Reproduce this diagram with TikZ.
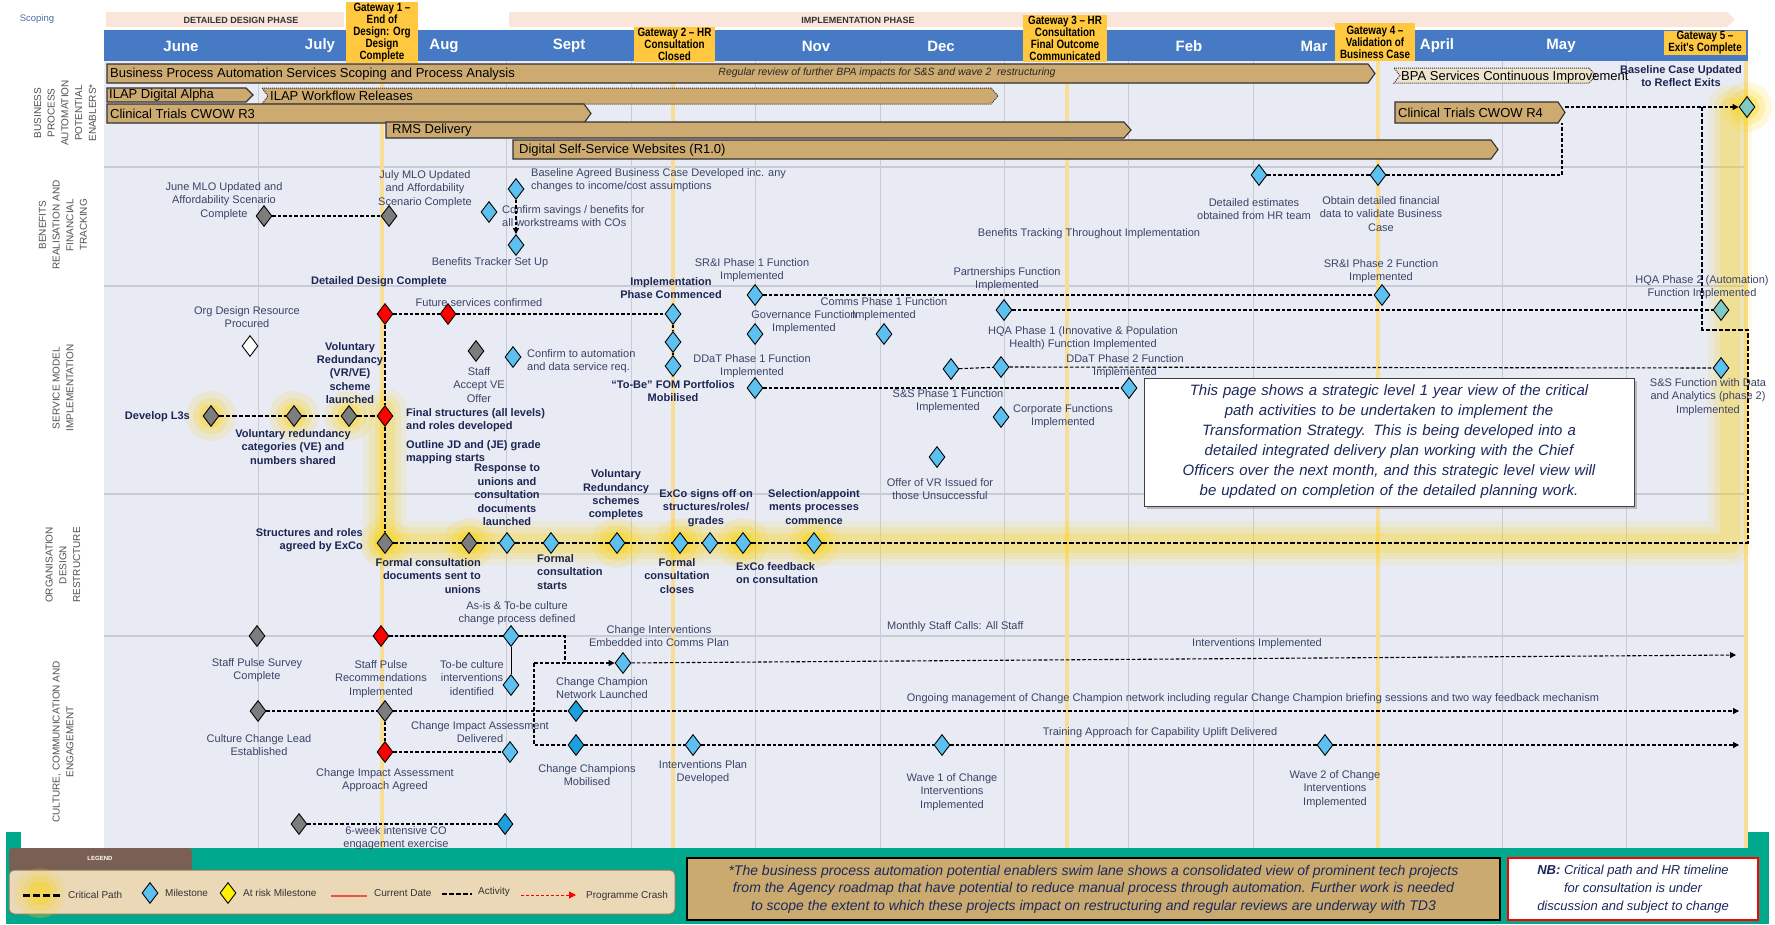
\documentclass[tikz,border=0pt]{standalone}
\usepackage{fontspec}
\setmainfont{Liberation Sans}
\newfontfamily\narrowf{Liberation Sans}[FakeStretch=0.82]
\usetikzlibrary{shapes.geometric,arrows.meta,shadows}
\definecolor{hdrblue}{RGB}{70,122,196}
\definecolor{lav}{RGB}{232,234,244}
\definecolor{gridc}{RGB}{200,203,214}
\definecolor{gwline}{RGB}{247,221,150}
\definecolor{gwbox}{RGB}{255,200,62}
\definecolor{phasec}{RGB}{250,229,219}
\definecolor{bartan}{RGB}{205,171,112}
\definecolor{barpale}{RGB}{238,227,205}
\definecolor{msblue}{RGB}{92,192,240}
\definecolor{msdark}{RGB}{30,160,222}
\definecolor{msgray}{RGB}{125,125,125}
\definecolor{msteal}{RGB}{128,202,196}
\definecolor{lblc}{RGB}{58,68,102}
\definecolor{boldc}{RGB}{28,38,82}
\definecolor{greenc}{RGB}{0,168,142}
\definecolor{legbrown}{RGB}{122,96,84}
\definecolor{legbeige}{RGB}{234,216,182}
\definecolor{legedge}{RGB}{140,120,100}
\definecolor{notec}{RGB}{202,170,110}
\definecolor{glowc}{RGB}{255,212,0}
\definecolor{lanec}{RGB}{80,80,80}
\definecolor{navyt}{RGB}{28,40,92}
\definecolor{scopc}{RGB}{80,110,160}
\definecolor{curred}{RGB}{240,80,70}

\newcommand\mychev[5]{\draw[#5] (#1,#3) -- ({#2-7},#3) -- (#2,{(#3+#4)/2}) -- ({#2-7},#4) -- (#1,#4) -- cycle;}
\newcommand\mynotch[5]{\draw[#5] (#1,#3) -- ({#2-7},#3) -- (#2,{(#3+#4)/2}) -- ({#2-7},#4) -- (#1,#4) -- ({#1+6},{(#3+#4)/2}) -- cycle;}
\newcommand\glowdot[2]{\fill[glowc,opacity=0.14] (#1,#2) circle (25pt); \fill[glowc,opacity=0.2] (#1,#2) circle (18pt); \fill[glowc,opacity=0.3] (#1,#2) circle (12pt);}

\tikzset{
 ms/.style={diamond,draw=black,line width=0.9pt,inner sep=0pt,minimum width=16pt,minimum height=21pt,fill=msblue},
 msg/.style={ms,fill=msgray},
 msr/.style={ms,fill=red},
 msw/.style={ms,fill=white},
 mst/.style={ms,fill=msteal},
 msd/.style={ms,fill=msdark},
 msy/.style={ms,fill=yellow},
 lbl/.style={font=\fontsize{11}{13.4}\selectfont,text=lblc,align=center,inner sep=0pt},
 blbl/.style={font=\bfseries\fontsize{11}{13.4}\selectfont,text=boldc,align=center,inner sep=0pt},
 bartxt/.style={font=\fontsize{13}{14}\selectfont,text=black,inner sep=0pt,anchor=west},
 act/.style={black,line width=1.1pt,dash pattern=on 3.5pt off 2pt},
 crit/.style={black,line width=1.6pt,dash pattern=on 4.5pt off 2pt},
 tip/.style={-{Triangle[length=6pt,width=6pt]}},
 barst/.style={fill=bartan,draw=black!80,line width=1.1pt},
 bardot/.style={fill=bartan,draw=black!80,line width=1pt,dash pattern=on 1pt off 1pt},
 lane/.style={font=\fontsize{10}{13.7}\selectfont,text=lanec,align=center,rotate=90,inner sep=0pt},
 mon/.style={font=\bfseries\fontsize{15}{16}\selectfont,text=white,inner sep=0pt},
 gwb/.style={fill=gwbox,inner sep=0pt,align=center,font=\narrowf\bfseries\fontsize{12}{12}\selectfont},
 leg/.style={font=\fontsize{10}{11}\selectfont,text=black!80,inner sep=0pt,anchor=west},
 phs/.style={font=\bfseries\fontsize{9}{10}\selectfont,text=black!80,inner sep=0pt},
}

\begin{document}
\begin{tikzpicture}[x=1pt,y=-1pt]
\useasboundingbox (0,0) rectangle (1775,924);
\fill[white] (0,0) rectangle (1775,924);
% backgrounds
\fill[greenc] (6,832) rectangle (1769,924);
\fill[white] (21,0) rectangle (104,848);
\fill[lav] (104,61) rectangle (1748,848);
% header
\fill[phasec] (106,12) rectangle (344,27);
\node[phs] (ph1) at (241,20) {DETAILED DESIGN PHASE};
\fill[phasec] (509,12) -- (1727,12) -- (1735,19.5) -- (1727,27) -- (509,27) -- cycle;
\node[phs] (ph2) at (858,20) {IMPLEMENTATION PHASE};
\node[font=\fontsize{9.5}{10}\selectfont,text=scopc,inner sep=0pt] (scop) at (37,19) {Scoping};
\fill[hdrblue] (104,30) rectangle (1748,61);
\node[mon] (m1) at (181,46) {June};
\node[mon] (m2) at (320,46) {July};
\node[mon] (m3) at (444,46) {Aug};
\node[mon] (m4) at (569,46) {Sept};
\node[mon] (m5) at (816,46) {Nov};
\node[mon] (m6) at (941,46) {Dec};
\node[mon] (m7) at (1189,46) {Feb};
\node[mon] (m8) at (1314,46) {Mar};
\node[mon] (m9) at (1437,46) {April};
\node[mon] (m10) at (1561,46) {May};
% grid
\foreach \i in {0,...,11} \draw[gridc,line width=1pt] ({258+124.4*\i},61) -- ({258+124.4*\i},848);
\foreach \yy in {167,286,494,636} \draw[gridc,line width=2.5pt] (104,\yy) -- (1748,\yy);
\foreach \xx in {382,673,1067,1378,1746} \draw[gwline,line width=3.5pt] (\xx,61) -- (\xx,848);
% gateway boxes
\node[gwb,minimum width=72pt,minimum height=61pt] (gw1) at (382,32.5) {Gateway 1 –\\End of\\Design: Org\\Design\\Complete};
\node[gwb,minimum width=81pt,minimum height=35pt] (gw2) at (674.5,44.5) {Gateway 2 – HR\\Consultation\\Closed};
\node[gwb,minimum width=84pt,minimum height=47pt] (gw3) at (1065,38.5) {Gateway 3 – HR\\Consultation\\Final Outcome\\Communicated};
\node[gwb,minimum width=80pt,minimum height=38pt] (gw4) at (1375,42) {Gateway 4 –\\Validation of\\Business Case};
\node[gwb,minimum width=82pt,minimum height=24pt] (gw5) at (1705,43) {Gateway 5 –\\Exit's Complete};
% lane labels
\node[lane] (l1) at (65,113) {BUSINESS\\PROCESS\\AUTOMATION\\POTENTIAL\\ENABLERS*};
\node[lane] (l2) at (63,225) {BENEFITS\\REALISATION AND\\FINANCIAL\\TRACKING};
\node[lane] (l3) at (63,388) {SERVICE MODEL\\IMPLEMENTATION};
\node[lane] (l4) at (63,565) {ORGANISATION\\DESIGN\\RESTRUCTURE};
\node[lane] (l5) at (63,742) {CULTURE, COMMUNICATION AND\\ENGAGEMENT};
% glows
\foreach \w/\o in {44/0.1,32/0.14,20/0.2} \draw[glowc,line width=\w pt,opacity=\o,line cap=round,line join=round] (385,410) -- (385,543) -- (1730,543) -- (1730,107);
\glowdot{211}{416}\glowdot{294}{416}\glowdot{349}{416}
\glowdot{385}{543}\glowdot{469}{543}\glowdot{617}{543}\glowdot{680}{543}\glowdot{743}{543}\glowdot{814}{543}
\glowdot{1747}{107}\glowdot{40}{893}
% BPA bars
\mychev{107}{1375}{64}{83}{barst}
\node[bartxt] (bA) at (110,74) {Business Process Automation Services Scoping and Process Analysis};
\node[font=\itshape\fontsize{10.5}{12}\selectfont,inner sep=0pt,text=black!85] (bAi) at (887,73) {Regular review of further BPA impacts for S\&S and wave 2\ \ restructuring};
\mychev{107}{253}{88}{102}{barst}
\node[bartxt] (bB) at (109,95) {ILAP Digital Alpha};
\mynotch{262}{998}{88}{104}{bardot}
\node[bartxt] (bC) at (270,96) {ILAP Workflow Releases};
\mychev{107}{591}{104}{123}{barst}
\node[bartxt] (bD) at (110,114) {Clinical Trials CWOW R3};
\mychev{386}{1131}{122}{138}{barst}
\node[bartxt] (bE) at (392,130) {RMS Delivery};
\mychev{513}{1498}{140}{159}{barst}
\node[bartxt] (bF) at (519,150) {Digital Self-Service Websites (R1.0)};
\mynotch{1394}{1596}{68}{83}{bardot,fill=barpale}
\node[bartxt] (bG) at (1401,77) {BPA Services Continuous Improvement};
\mychev{1395}{1565}{102}{123}{barst}
\node[bartxt] (bH) at (1398,113) {Clinical Trials CWOW R4};
\coordinate (hR) at (1565,107);
\coordinate (hB) at (1562,123);
% milestones
\node[mst] (g5) at (1747,107) {};
\node[msg] (b1) at (264,216) {};
\node[msg] (b2) at (389,216) {};
\node[ms] (b3) at (489,212) {};
\node[ms] (b4) at (516,189) {};
\node[ms] (b5) at (516,245) {};
\node[ms] (b6) at (1259,175) {};
\node[ms] (b7) at (1378,175) {};
\node[msr] (s1) at (385,314) {};
\node[msr] (s2) at (448,314) {};
\node[ms] (s3) at (673,314) {};
\node[msw] (s4) at (250,346) {};
\node[ms] (s5) at (673,342) {};
\node[ms] (s6) at (673,366) {};
\node[ms] (s7) at (755,295) {};
\node[ms] (s8) at (1382,295) {};
\node[ms] (s9) at (755,334) {};
\node[ms] (s10) at (884,334) {};
\node[ms] (s11) at (1004,310) {};
\node[mst] (s12) at (1721,310) {};
\node[ms] (s13) at (951,369) {};
\node[ms] (s14) at (1001,367) {};
\node[ms] (s15) at (1721,368) {};
\node[ms] (s16) at (755,388) {};
\node[ms] (s17) at (1129,388) {};
\node[ms] (s18) at (1001,417) {};
\node[ms] (s19) at (937,457) {};
\node[msg] (s20) at (476,351) {};
\node[ms] (s21) at (513,357) {};
\node[msg] (s22) at (211,416) {};
\node[msg] (s23) at (294,416) {};
\node[msg] (s24) at (349,416) {};
\node[msr] (s25) at (385,416) {};
\node[msg] (o1) at (385,543) {};
\node[msg] (o2) at (469,543) {};
\node[ms] (o3) at (507,543) {};
\node[ms] (o4) at (551,543) {};
\node[ms] (o5) at (617,543) {};
\node[ms] (o6) at (680,543) {};
\node[ms] (o7) at (710,543) {};
\node[ms] (o8) at (743,543) {};
\node[ms] (o9) at (814,543) {};
\node[msg] (c1) at (257,636) {};
\node[msr] (c2) at (381,636) {};
\node[ms] (c3) at (511,636) {};
\node[ms] (c4) at (511,685) {};
\node[ms] (c5) at (623,663) {};
\node[msg] (c6) at (258,711) {};
\node[msg] (c7) at (385,711) {};
\node[msd] (c8) at (576,711) {};
\node[msr] (c9) at (385,752) {};
\node[ms] (c10) at (510,752) {};
\node[msd] (c11) at (576,745) {};
\node[ms] (c12) at (693,745) {};
\node[ms] (c13) at (942,745) {};
\node[ms] (c14) at (1325,745) {};
\node[msg] (c15) at (299,824) {};
\node[msd] (c16) at (505,824) {};
\coordinate (k1) at (1748,543);
\coordinate (k2) at (1748,330);
\coordinate (k3) at (1702,330);
\coordinate (k4) at (1702,107);
\coordinate (bk) at (1562,175);
\coordinate (q1) at (565,636);
\coordinate (q2) at (565,663);
\coordinate (q3) at (534,663);
\coordinate (q4) at (534,745);
\coordinate (e1) at (1736,655);
\coordinate (e2) at (1739,711);
\coordinate (e3) at (1739,745);
% connectors
\draw[act,tip] (hR) -- (g5);
\draw[act] (b1) -- (b2);
\draw[act,tip] (b4) -- (b5);
\draw[act] (b6) -- (b7);
\draw[act] (b7) -- (bk) -- (hB);
\draw[act] (s1) -- (s2) -- (s3);
\draw[act] (s3) -- (s5) -- (s6);
\draw[act] (s7) -- (s8);
\draw[act] (s11) -- (s12);
\draw[act] (s13) -- (s14) -- (s15);
\draw[act] (s16) -- (s17);
\draw[crit] (s22) -- (s23) -- (s24) -- (s25);
\draw[crit] (s1) -- (s25) -- (o1);
\draw[crit] (o1) -- (o2) -- (o3) -- (o4) -- (o5) -- (o6) -- (o7) -- (o8) -- (o9) -- (k1) -- (k2) -- (k3) -- (k4);
\draw[act] (c2) -- (c3) -- (q1) -- (q2);
\draw[act,tip] (q3) -- (c5);
\draw[act] (q3) -- (q4) -- (c11);
\draw[line width=1pt] (c3) -- (c4);
\draw[act,tip] (c5) -- (e1);
\draw[act,tip] (c6) -- (c7) -- (c8) -- (e2);
\draw[act] (c7) -- (c9) -- (c10);
\draw[act,tip] (c11) -- (c12) -- (c13) -- (c14) -- (e3);
\draw[act] (c15) -- (c16);
% benefits texts
\node[lbl] (t1) at (224,201) {June MLO Updated and\\Affordability Scenario\\Complete};
\node[lbl] (t2) at (425,189) {July MLO Updated\\and Affordability\\Scenario Complete};
\node[lbl,align=left,anchor=west] (t3) at (502,216) {Confirm savings / benefits for\\all workstreams with COs};
\node[lbl,align=left,anchor=west] (t4) at (531,180) {Baseline Agreed Business Case Developed inc. any\\changes to income/cost assumptions};
\node[lbl] (t5) at (490,263) {Benefits Tracker Set Up};
\node[lbl] (t6) at (1254,209) {Detailed estimates\\obtained from HR team};
\node[lbl] (t7) at (1381,214) {Obtain detailed financial\\data to validate Business\\Case};
\node[lbl] (t8) at (1089,234) {Benefits Tracking Throughout Implementation};
\node[lbl] (t9) at (752,270) {SR\&I Phase 1 Function\\Implemented};
\node[blbl] (t10) at (379,282) {Detailed Design Complete};
\node[blbl] (t11) at (671,288) {Implementation\\Phase Commenced};
\node[lbl] (t12) at (1007,279) {Partnerships Function\\Implemented};
\node[lbl] (t13) at (1381,271) {SR\&I Phase 2 Function\\Implemented};
\node[lbl] (t14) at (1702,287) {HQA Phase 2 (Automation)\\Function Implemented};
\node[blbl] (t61) at (1681,76) {Baseline Case Updated\\to Reflect Exits};
% service texts
\node[lbl] (t15) at (479,303) {Future services confirmed};
\node[lbl] (t16) at (247,317) {Org Design Resource\\Procured};
\node[lbl] (t17) at (804,322) {Governance Function\\Implemented};
\node[lbl] (t18) at (884,309) {Comms Phase 1 Function\\Implemented};
\node[lbl] (t19) at (1083,338) {HQA Phase 1 (Innovative \& Population\\Health) Function Implemented};
\node[lbl] (t20) at (1125,366) {DDaT Phase 2 Function\\Implemented};
\node[blbl] (t21) at (673,391) {“To-Be” FOM Portfolios\\Mobilised};
\node[lbl] (t22) at (752,366) {DDaT Phase 1 Function\\Implemented};
\node[lbl] (t23) at (948,401) {S\&S Phase 1 Function\\Implemented};
\node[lbl] (t24) at (1063,416) {Corporate Functions\\Implemented};
\node[lbl] (t25) at (940,489) {Offer of VR Issued for\\those Unsuccessful};
\node[lbl] (t26) at (1708,397) {S\&S Function with Data\\and Analytics (phase 2)\\Implemented};
\node[lbl] (t27) at (479,385) {Staff\\Accept VE\\Offer};
\node[lbl,align=left,anchor=west] (t28) at (527,361) {Confirm to automation\\and data service req.};
\node[blbl] (t29) at (350,373) {Voluntary\\Redundancy\\(VR/VE)\\scheme\\launched};
\node[blbl,anchor=east] (t30) at (190,417) {Develop L3s};
\node[blbl] (t31) at (293,447) {Voluntary redundancy\\categories (VE) and\\numbers shared};
\node[blbl,align=left,anchor=west] (t32) at (406,420) {Final structures (all levels)\\and roles developed};
\node[blbl,align=left,anchor=west] (t33) at (406,452) {Outline JD and (JE) grade\\mapping starts};
\node[blbl] (t34) at (507,495) {Response to\\unions and\\consultation\\documents\\launched};
\node[blbl] (t35) at (616,495) {Voluntary\\Redundancy\\schemes\\completes};
\node[blbl] (t36) at (706,508) {ExCo signs off on\\structures/roles/\\grades};
\node[blbl] (t37) at (814,507) {Selection/appoint\\ments processes\\commence};
\node[draw=black!75,line width=1pt,fill=white,drop shadow={shadow xshift=3pt,shadow yshift=-3pt,opacity=0.45},minimum width=490pt,minimum height=128pt,inner sep=0pt,align=center,text width=488pt,font=\itshape\fontsize{15}{20}\selectfont,text=navyt] (note) at (1389,442) {This page shows a strategic level 1 year view of the critical\\path activities to be undertaken to implement the\\Transformation Strategy. This is being developed into a\\detailed integrated delivery plan working with the Chief\\Officers over the next month, and this strategic level view will\\be updated on completion of the detailed planning work.};
% org texts
\node[blbl,align=right,anchor=east] (t38) at (363,540) {Structures and roles\\agreed by ExCo};
\node[blbl,align=right,anchor=east] (t39) at (481,576) {Formal consultation\\documents sent to\\unions};
\node[blbl,align=left,anchor=west] (t40) at (537,572) {Formal\\consultation\\starts};
\node[blbl] (t41) at (677,576) {Formal\\consultation\\closes};
\node[blbl,align=left,anchor=west] (t42) at (736,573) {ExCo feedback\\on consultation};
\node[lbl] (t43) at (517,613) {As-is \& To-be culture\\change process defined};
\node[lbl] (t44) at (659,636) {Change Interventions\\Embedded into Comms Plan};
\node[lbl,anchor=west] (t45) at (887,627) {Monthly Staff Calls: All Staff};
% culture texts
\node[lbl] (t46) at (257,670) {Staff Pulse Survey\\Complete};
\node[lbl] (t47) at (381,679) {Staff Pulse\\Recommendations\\Implemented};
\node[lbl] (t48) at (472,678) {To-be culture\\interventions\\identified};
\node[lbl] (t49) at (1257,644) {Interventions Implemented};
\node[lbl] (t50) at (602,688) {Change Champion\\Network Launched};
\node[lbl] (t51) at (1253,699) {Ongoing management of Change Champion network including regular Change Champion briefing sessions and two way feedback mechanism};
\node[lbl] (t52) at (259,745) {Culture Change Lead\\Established};
\node[lbl] (t53) at (480,732) {Change Impact Assessment\\Delivered};
\node[lbl] (t54) at (385,780) {Change Impact Assessment\\Approach Agreed};
\node[lbl] (t55) at (587,775) {Change Champions\\Mobilised};
\node[lbl] (t56) at (703,772) {Interventions Plan\\Developed};
\node[lbl] (t57) at (1160,733) {Training Approach for Capability Uplift Delivered};
\node[lbl] (t58) at (952,792) {Wave 1 of Change\\Interventions\\Implemented};
\node[lbl] (t59) at (1335,789) {Wave 2 of Change\\Interventions\\Implemented};
\node[lbl] (t60) at (396,838) {6-week intensive CO\\engagement exercise};
% legend
\fill[legbrown,rounded corners=3pt] (9,848) rectangle (192,872);
\node[font=\bfseries\fontsize{6}{7}\selectfont,text=white,inner sep=0pt] (legt) at (100,858) {LEGEND};
\draw[fill=legbeige,draw=legedge,rounded corners=5pt,line width=1pt] (9,870) rectangle (675,914);
\glowdot{40}{893}
\coordinate (lg1) at (23,895); \coordinate (lg2) at (62,895);
\draw[black,line width=3pt,dash pattern=on 7pt off 3pt] (lg1) -- (lg2);
\node[leg] (lt1) at (68,895) {Critical Path};
\node[ms] (lm1) at (150,893) {};
\node[leg] (lt2) at (165,893) {Milestone};
\node[msy] (lm2) at (228,893) {};
\node[leg] (lt3) at (243,893) {At risk Milestone};
\coordinate (lg3) at (331,896); \coordinate (lg4) at (367,896);
\draw[curred,line width=2.5pt] (lg3) -- (lg4);
\node[leg] (lt4) at (374,893) {Current Date};
\coordinate (lg5) at (442,894); \coordinate (lg6) at (472,894);
\draw[black,line width=2pt,dash pattern=on 5pt off 2pt] (lg5) -- (lg6);
\node[leg] (lt5) at (478,892) {Activity};
\coordinate (lg7) at (521,895); \coordinate (lg8) at (576,895);
\draw[red,line width=1pt,dash pattern=on 3pt off 2pt,-{Triangle[length=7pt,width=7pt]}] (lg7) -- (lg8);
\node[leg] (lt6) at (586,896) {Programme Crash};
% footnote boxes
\node[draw=black,line width=1.3pt,fill=notec,minimum width=813pt,minimum height=62pt,inner sep=0pt,align=center,font=\itshape\fontsize{14}{17.5}\selectfont,text=navyt] (fn) at (1093.5,889) {*The business process automation potential enablers swim lane shows a consolidated view of prominent tech projects\\from the Agency roadmap that have potential to reduce manual process through automation. Further work is needed\\to scope the extent to which these projects impact on restructuring and regular reviews are underway with TD3};
\node[draw=red,line width=1.3pt,fill=white,minimum width=250pt,minimum height=62pt,inner sep=0pt,align=center,font=\itshape\fontsize{13}{18}\selectfont,text=navyt] (nb) at (1633,889) {\textbf{NB:} Critical path and HR timeline\\for consultation is under\\discussion and subject to change};
\end{tikzpicture}
\end{document}
